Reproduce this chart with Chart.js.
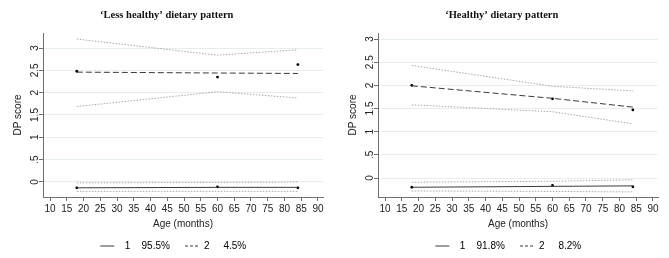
<!DOCTYPE html>
<html>
<head>
<meta charset="utf-8">
<script src="https://cdn.jsdelivr.net/npm/chart.js@4.4.1/dist/chart.umd.min.js"></script>
<style>
html, body { margin: 0; padding: 0; background: #fff; }
.panel { position: absolute; top: 0; width: 334px; height: 258px; }
#leftPanel { left: 0; }
#rightPanel { left: 335px; }
</style>
</head>
<body>
<div class="panel" id="leftPanel"><canvas id="lessChart"></canvas></div>
<div class="panel" id="rightPanel"><canvas id="healthyChart"></canvas></div>
<script>
// ages where the scores were measured
const ages = [18, 60, 84];
const xTicks = [10, 15, 20, 25, 30, 35, 40, 45, 50, 55, 60, 65, 70, 75, 80, 85, 90];
const yTicks = [0, 0.5, 1, 1.5, 2, 2.5, 3];
const yTickLabels = ['0', '.5', '1', '1.5', '2', '2.5', '3'];

// 'Less healthy' pattern
const lessClass1Obs = [-0.13, -0.11, -0.13];
const lessClass1Fit = [-0.13, -0.12, -0.12];
const lessClass1Upper = [-0.02, -0.01, 0.0];
const lessClass1Lower = [-0.21, -0.21, -0.21];
const lessClass2Obs = [2.48, 2.35, 2.63];
const lessClass2Fit = [2.46, 2.44, 2.43];
const lessClass2Upper = [3.2, 2.84, 2.96];
const lessClass2Lower = [1.69, 2.02, 1.88];
const lessShares = ['95.5%', '4.5%'];

// 'Healthy' pattern
const healthyClass1Obs = [-0.2, -0.16, -0.19];
const healthyClass1Fit = [-0.2, -0.18, -0.17];
const healthyClass1Upper = [-0.09, -0.07, -0.04];
const healthyClass1Lower = [-0.28, -0.29, -0.3];
const healthyClass2Obs = [2.0, 1.71, 1.47];
const healthyClass2Fit = [1.99, 1.72, 1.53];
const healthyClass2Upper = [2.43, 1.98, 1.88];
const healthyClass2Lower = [1.58, 1.43, 1.17];
const healthyShares = ['91.8%', '8.2%'];

const sans = "'Liberation Sans', Arial, sans-serif";
const axisGray = '#6f6f6f';
const textColor = '#222';

const toPts = arr => arr.map((y, i) => ({ x: ages[i], y }));

function ciLine(values) {
    return { type: 'line', data: toPts(values), borderColor: '#a8a8a8', borderWidth: 1,
        borderDash: [1.5, 1.5], pointRadius: 0, fill: false, tension: 0 };
}

function fitLine(values, dash) {
    return { type: 'line', data: toPts(values), borderColor: '#3a3a3a', borderWidth: 1,
        borderDash: dash, pointRadius: 0, fill: false, tension: 0 };
}

function obsPoints(values) {
    return { type: 'scatter', data: toPts(values), backgroundColor: '#000', borderColor: '#000',
        pointRadius: 1.4, borderWidth: 0, showLine: false };
}

// y tick labels are written sideways (reading upwards), like the original
const sidewaysYLabels = {
    id: 'sidewaysYLabels',
    afterDraw(chart) {
        const s = chart.scales.y;
        const ctx = chart.ctx;
        ctx.save();
        ctx.fillStyle = textColor;
        ctx.font = '10px ' + sans;
        ctx.textAlign = 'center';
        ctx.textBaseline = 'middle';
        yTicks.forEach((v, i) => {
            ctx.save();
            ctx.translate(s.right - 8, s.getPixelForValue(v));
            ctx.rotate(-Math.PI / 2);
            ctx.fillText(yTickLabels[i], 0, 0);
            ctx.restore();
        });
        ctx.restore();
    }
};

function makeChart(canvasId, title, yMin, yMax, c1, c2, shares) {
    const ctx = document.getElementById(canvasId).getContext('2d');
    return new Chart(ctx, {
        type: 'line',
        data: {
            datasets: [
                ciLine(c2.upper), ciLine(c2.lower),
                ciLine(c1.upper), ciLine(c1.lower),
                fitLine(c2.fit, [6, 3]), fitLine(c1.fit, []),
                obsPoints(c2.obs), obsPoints(c1.obs)
            ]
        },
        plugins: [sidewaysYLabels],
        options: {
            responsive: true,
            maintainAspectRatio: false,
            animation: false,
            layout: { padding: { left: 0, right: 11, top: 0, bottom: -3 } },
            plugins: {
                title: {
                    display: true,
                    // leading spaces nudge the centred title to the right, as in the original
                    text: '    ' + title,
                    color: '#111',
                    font: { family: "'Liberation Serif', 'Times New Roman', serif", size: 10.5, weight: 'bold' },
                    padding: { top: 9, bottom: 11.4 }
                },
                legend: {
                    display: true,
                    position: 'bottom',
                    fullSize: false,
                    labels: {
                        color: textColor,
                        font: { family: sans, size: 10 },
                        usePointStyle: true,
                        pointStyleWidth: 14,
                        padding: 4,
                        generateLabels: () => [
                            { text: '  1    ' + shares[0] + '    ', strokeStyle: '#3a3a3a', fillStyle: '#3a3a3a',
                              lineWidth: 1, lineDash: [], pointStyle: 'line', hidden: false, datasetIndex: 5 },
                            { text: '2     ' + shares[1] + '       ', strokeStyle: '#3a3a3a', fillStyle: '#3a3a3a',
                              lineWidth: 1, lineDash: [3, 2], pointStyle: 'line', hidden: false, datasetIndex: 4 }
                        ]
                    }
                },
                tooltip: { enabled: false }
            },
            scales: {
                x: {
                    type: 'linear',
                    min: 7.9,
                    max: 91.5,
                    afterBuildTicks: s => { s.ticks = xTicks.map(v => ({ value: v })); },
                    afterFit: s => { s.height = 40; },
                    ticks: { color: textColor, font: { family: sans, size: 10 }, padding: 2,
                        maxRotation: 0, minRotation: 0, autoSkip: false },
                    grid: { drawOnChartArea: false, drawTicks: true, tickLength: 4, tickColor: axisGray },
                    border: { display: true, color: axisGray, width: 1 },
                    title: { display: true, text: 'Age (months)', color: textColor,
                        font: { family: sans, size: 10 }, padding: { top: 0, bottom: 7 } }
                },
                y: {
                    type: 'linear',
                    min: yMin,
                    max: yMax,
                    afterBuildTicks: s => { s.ticks = yTicks.map(v => ({ value: v })); },
                    afterFit: s => { s.width = 43; },
                    ticks: { color: 'rgba(0,0,0,0)', font: { family: sans, size: 10 }, autoSkip: false,
                        callback: v => yTickLabels[yTicks.indexOf(v)] },
                    grid: { color: '#e4eef0', lineWidth: 1, drawTicks: true, tickLength: 4, tickColor: axisGray },
                    border: { display: true, color: axisGray, width: 1 },
                    title: { display: true, text: 'DP score', color: textColor,
                        font: { family: sans, size: 10 }, padding: { top: 12, bottom: 0 } }
                }
            }
        }
    });
}

makeChart('lessChart', '\u2018Less healthy\u2019 dietary pattern', -0.336, 3.336,
    { obs: lessClass1Obs, fit: lessClass1Fit, upper: lessClass1Upper, lower: lessClass1Lower },
    { obs: lessClass2Obs, fit: lessClass2Fit, upper: lessClass2Upper, lower: lessClass2Lower },
    lessShares);

makeChart('healthyChart', '\u2018Healthy\u2019 dietary pattern', -0.41, 3.13,
    { obs: healthyClass1Obs, fit: healthyClass1Fit, upper: healthyClass1Upper, lower: healthyClass1Lower },
    { obs: healthyClass2Obs, fit: healthyClass2Fit, upper: healthyClass2Upper, lower: healthyClass2Lower },
    healthyShares);
</script>
</body>
</html>
